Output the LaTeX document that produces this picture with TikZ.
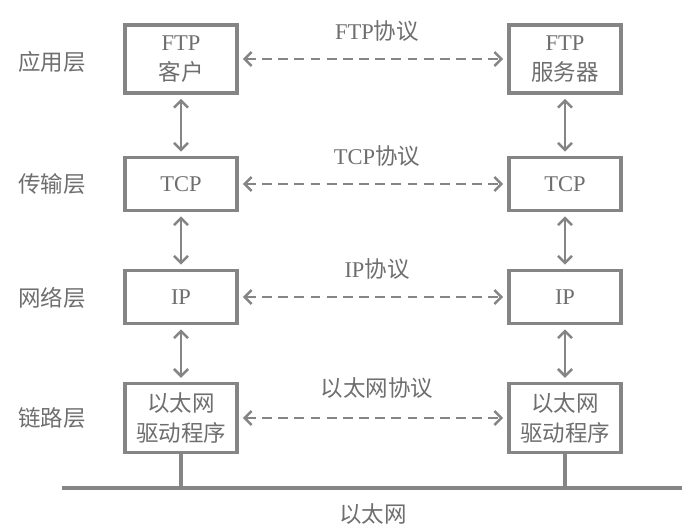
\documentclass[tikz,border=0pt]{standalone}
\usepackage{fontspec}
\setmainfont{Liberation Serif}
\newfontfamily\cjk{Noto Sans CJK SC}
\usetikzlibrary{arrows.meta}

\definecolor{linegray}{HTML}{858585}
\definecolor{textgray}{HTML}{6E6E6E}

\tikzset{
	layerbox/.style = {draw = linegray, line width = 2.2pt, fill = white, minimum width = 2.8cm, align = center, text = textgray, font = \fontsize{16}{21}\selectfont, inner sep = 1pt},
	layername/.style = {text = textgray, font = \fontsize{16}{19}\selectfont\cjk},
	protoname/.style = {text = textgray, font = \fontsize{16}{19}\selectfont},
	peer/.style = {draw = linegray, line width = 1.8pt, dash pattern = on 7pt off 4.5pt, {Straight Barb[length=5pt,width=10pt]}-{Straight Barb[length=5pt,width=10pt]}},
	stack/.style = {draw = linegray, line width = 1.8pt, {Straight Barb[length=5pt,width=10pt]}-{Straight Barb[length=5pt,width=10pt]}}
}

\begin{document}
\begin{tikzpicture}[x = 0.025cm, y = -0.025cm]
	\useasboundingbox (0,0) rectangle (696,531);
	% layer names
	\node [layername] (app) at (52,62) {应用层};
	\node [layername] (trans) at (52,184) {传输层};
	\node [layername] (net) at (52,298) {网络层};
	\node [layername] (link) at (52,418) {链路层};
	% client side
	\node [layerbox, minimum height = 1.7cm] (ftpc) at (181,59) {FTP\\{\cjk 客户}};
	\node [layerbox, minimum height = 1.33cm] (tcpc) at (181,184) {TCP};
	\node [layerbox, minimum height = 1.33cm] (ipc) at (181,297) {IP};
	\node [layerbox, minimum height = 1.72cm] (ethc) at (181,418) {\cjk 以太网\\\cjk 驱动程序};
	% server side
	\node [layerbox, minimum height = 1.7cm] (ftps) at (565,59) {FTP\\{\cjk 服务器}};
	\node [layerbox, minimum height = 1.33cm] (tcps) at (565,184) {TCP};
	\node [layerbox, minimum height = 1.33cm] (ips) at (565,297) {IP};
	\node [layerbox, minimum height = 1.72cm] (eths) at (565,418) {\cjk 以太网\\\cjk 驱动程序};
	% protocols
	\node [protoname] (ftpp) at (377,31) {FTP{\cjk 协议}};
	\node [protoname] (tcpp) at (377,156) {TCP{\cjk 协议}};
	\node [protoname] (ipp) at (377,269) {IP{\cjk 协议}};
	\node [protoname] (ethp) at (377,388) {\cjk 以太网协议};
	\draw [peer] ([xshift=3pt]ftpc.east) -- ([xshift=-3pt]ftps.west);
	\draw [peer] ([xshift=3pt]tcpc.east) -- ([xshift=-3pt]tcps.west);
	\draw [peer] ([xshift=3pt]ipc.east) -- ([xshift=-3pt]ips.west);
	\draw [peer] ([xshift=3pt]ethc.east) -- ([xshift=-3pt]eths.west);
	% up and down the stack
	\draw [stack] ([yshift=-3pt]ftpc.south) -- ([yshift=3pt]tcpc.north);
	\draw [stack] ([yshift=-3pt]tcpc.south) -- ([yshift=3pt]ipc.north);
	\draw [stack] ([yshift=-3pt]ipc.south) -- ([yshift=3pt]ethc.north);
	\draw [stack] ([yshift=-3pt]ftps.south) -- ([yshift=3pt]tcps.north);
	\draw [stack] ([yshift=-3pt]tcps.south) -- ([yshift=3pt]ips.north);
	\draw [stack] ([yshift=-3pt]ips.south) -- ([yshift=3pt]eths.north);
	% the cable
	\coordinate (busl) at (62,488);
	\coordinate (busr) at (682,488);
	\draw [linegray, line width = 3.5pt] (busl) -- (busr);
	\draw [linegray, line width = 2.2pt] (ethc.south) -- (ethc.south |- busl);
	\draw [linegray, line width = 2.2pt] (eths.south) -- (eths.south |- busl);
	\node [layername] (ether) at (373,514) {以太网};
\end{tikzpicture}
\end{document}
